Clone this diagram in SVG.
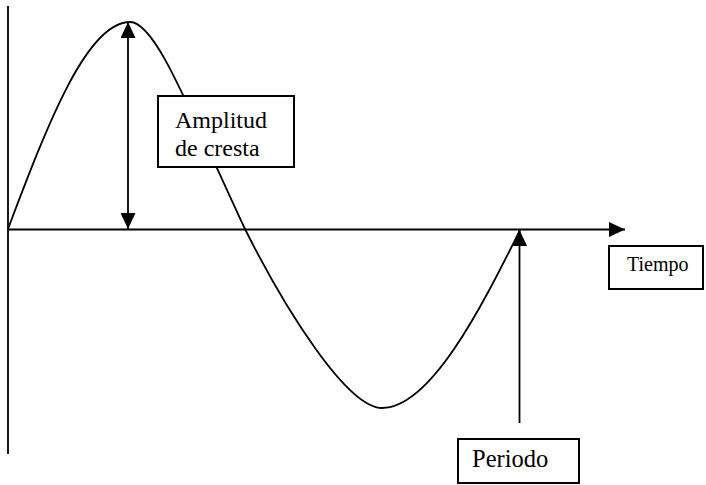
<svg xmlns="http://www.w3.org/2000/svg" width="706" height="485" viewBox="0 0 706 485">
<defs>
<style>
.ln{stroke:#000;stroke-width:1.8;fill:none}
.box{fill:#fff;stroke:#000;stroke-width:2}
.t{font-family:"Liberation Serif","Times New Roman",serif;fill:#000}
</style>
<marker id="ah" viewBox="0 0 16 15" markerUnits="userSpaceOnUse" markerWidth="16" markerHeight="15" refX="16" refY="7.5" orient="auto-start-reverse">
<path d="M0,0 L16,7.5 L0,15 z" fill="#000"/>
</marker>
</defs>
<rect width="706" height="485" fill="#fff"/>
<g id="axes">
<line class="ln" x1="8" y1="6" x2="8" y2="454"/>
<line class="ln" x1="8" y1="229.5" x2="625" y2="229.5" marker-end="url(#ah)"/>
</g>
<g id="wave">
<path class="ln" stroke-width="1.7" d="M8,229 C48.3,121.8 87.3,22 130,22 C155,22 185,100 245,229 C285,309 347,408 382,408 C432,408 485,300 520,230"/>
</g>
<g id="connectors">
<line class="ln" x1="128" y1="22" x2="128" y2="229" marker-start="url(#ah)" marker-end="url(#ah)"/>
<line class="ln" x1="519.5" y1="423" x2="519.5" y2="230" marker-end="url(#ah)"/>
</g>
<g id="amplitud">
<rect class="box" x="158" y="96" width="136" height="71"/>
<text class="t" x="175" y="128" font-size="24">Amplitud</text>
<text class="t" x="175" y="156" font-size="24">de cresta</text>
</g>
<g id="tiempo">
<rect class="box" x="609" y="246" width="94" height="43"/>
<text class="t" x="627" y="271" font-size="20">Tiempo</text>
</g>
<g id="periodo">
<rect class="box" x="458" y="439" width="121" height="44"/>
<text class="t" x="472" y="467" font-size="24.5">Periodo</text>
</g>
</svg>
